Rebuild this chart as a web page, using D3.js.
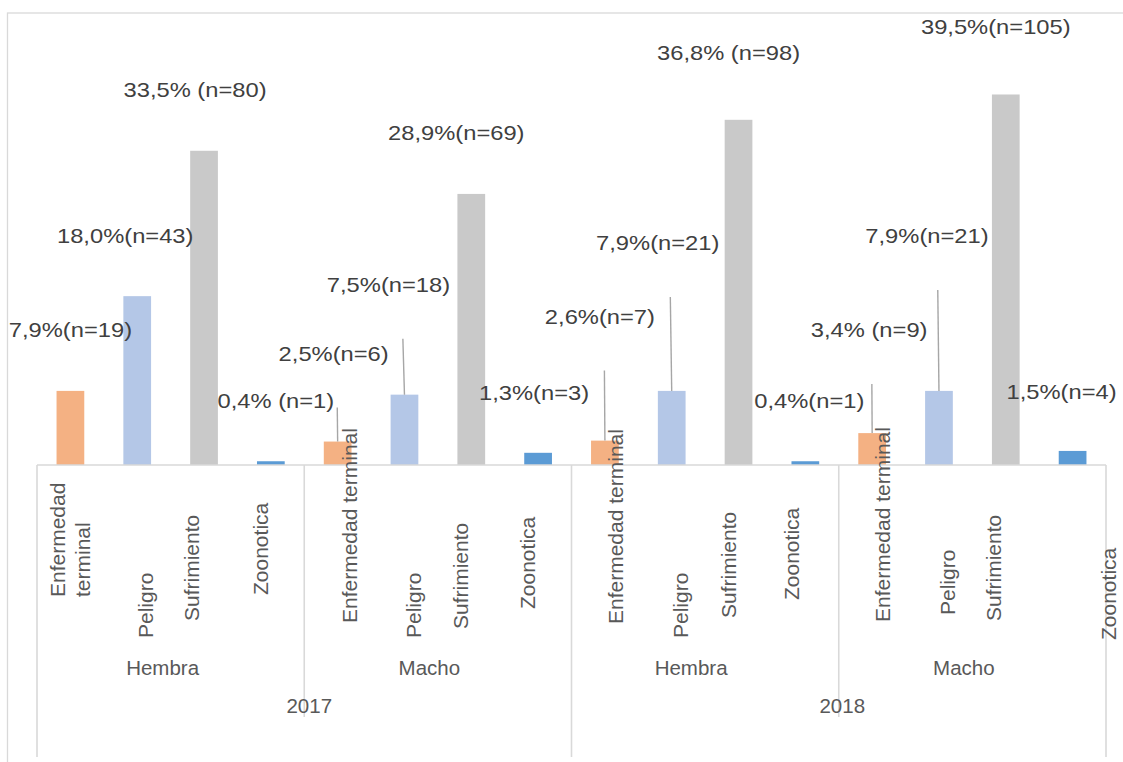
<!DOCTYPE html>
<html><head><meta charset="utf-8">
<script src="https://cdn.jsdelivr.net/npm/d3@7"></script>
<style>
body{margin:0;background:#fff}
svg{display:block}
text{font-family:"Liberation Sans",Arial,Helvetica,sans-serif}
</style>
</head><body><svg id="c" width="1123" height="762"></svg>
<script>
// ---------- data ----------
const years = ["2017", "2018"];
const sexes = ["Hembra", "Macho"];
const causes = ["Enfermedad terminal", "Peligro", "Sufrimiento", "Zoonotica"];
const pct2017Hembra = [7.9, 18.0, 33.5, 0.4];
const pct2017Macho  = [2.5, 7.5, 28.9, 1.3];
const pct2018Hembra = [2.6, 7.9, 36.8, 0.4];
const pct2018Macho  = [3.4, 7.9, 39.5, 1.5];
const lbl2017Hembra = ["7,9%(n=19)", "18,0%(n=43)", "33,5% (n=80)", "0,4% (n=1)"];
const lbl2017Macho  = ["2,5%(n=6)", "7,5%(n=18)", "28,9%(n=69)", "1,3%(n=3)"];
const lbl2018Hembra = ["2,6%(n=7)", "7,9%(n=21)", "36,8% (n=98)", "0,4%(n=1)"];
const lbl2018Macho  = ["3,4% (n=9)", "7,9%(n=21)", "39,5%(n=105)", "1,5%(n=4)"];

// ---------- styles / layout ----------
const colors = ["#F4B183", "#B4C7E7", "#C9C9C9", "#5B9BD5"];
// value label offsets [dx from bar centre, dy from bar top]
const valueLabelOffset = [
  [0,-61],[-12,-60],[-9,-61],[5,-60],
  [-4,-88],[-16,-110],[-15,-61],[-4,-60],
  [-5,-124],[-14,-148],[-10,-67],[4,-60],
  [-3,-103],[-12,-155],[-10,-68],[-11,-59]
];
// category tick label layout [baseline dx from bar centre, bottom y]
const tickLayout = [
  [-5.4,597],[15.8,638],[-5,621],[-2.8,595],
  [19.4,623],[16.6,638],[-3.2,629],[-3,609],
  [18.2,624],[16.4,638],[-2.4,618],[-6.2,600],
  [18,622],[16.2,615],[-4.6,621],[43.6,640]
];
const sexLabelDx = [-8,-8.5,-14,-8.5];
const yearLabelDx = [5,3.5];

const seriesByYearSex = {
  "2017|Hembra": [pct2017Hembra, lbl2017Hembra],
  "2017|Macho":  [pct2017Macho,  lbl2017Macho],
  "2018|Hembra": [pct2018Hembra, lbl2018Hembra],
  "2018|Macho":  [pct2018Macho,  lbl2018Macho]
};
const rows = [];
years.forEach(y => sexes.forEach(s => causes.forEach((c, ci) => {
  const [v, l] = seriesByYearSex[y + "|" + s];
  rows.push({year: y, sex: s, cause: c, ci, key: y + "|" + s + "|" + c, value: v[ci], label: l[ci]});
})));

const svg = d3.select("#c");
const X0 = 37, X1 = 1106, BASE = 465;

// outer chart border
svg.append("rect").attr("x", 7.5).attr("y", 13).attr("width", 1130).attr("height", 800)
  .attr("fill", "none").attr("stroke", "#d9d9d9").attr("stroke-width", 1.3);

const x = d3.scaleBand().domain(rows.map(d => d.key)).range([X0, X1])
  .paddingInner(0.585).paddingOuter(0.2925);
const xSex = d3.scaleBand().domain(years.flatMap(y => sexes.map(s => y + "|" + s))).range([X0, X1]);
const xYear = d3.scaleBand().domain(years).range([X0, X1]);
const y = d3.scaleLinear().domain([0, 45]).range([BASE, BASE - 45 * 9.38]);

// bars
svg.append("g").selectAll("rect").data(rows).join("rect")
  .attr("x", d => x(d.key)).attr("width", x.bandwidth())
  .attr("y", d => y(d.value)).attr("height", d => y(0) - y(d.value))
  .attr("fill", d => colors[d.ci]);

// axis lines
const axis = svg.append("g").attr("stroke", "#d9d9d9").attr("stroke-width", 1.6);
axis.append("line").attr("x1", X0).attr("x2", X1).attr("y1", BASE).attr("y2", BASE);
xSex.domain().forEach((k, i) => {
  if (i % 2 === 1) axis.append("line").attr("x1", xSex(k)).attr("x2", xSex(k)).attr("y1", BASE).attr("y2", 717);
});
years.forEach(yr => {
  axis.append("line").attr("x1", xYear(yr)).attr("x2", xYear(yr)).attr("y1", BASE).attr("y2", 757);
});
axis.append("line").attr("x1", X1).attr("x2", X1).attr("y1", BASE).attr("y2", 757);

// category tick labels (rotated)
const tl = svg.append("g").attr("fill", "#595959").style("font-size", "21px");
rows.forEach((d, i) => {
  const cx = x(d.key) + x.bandwidth() / 2;
  const [dx, yb] = tickLayout[i];
  const lines = i === 0 ? d.cause.split(" ") : [d.cause];
  lines.forEach((ln, li) => {
    tl.append("text").attr("transform", `translate(${cx + dx + li * 25},${yb}) rotate(-90)`)
      .attr("text-anchor", "start").text(ln);
  });
});

// sex labels
const sl = svg.append("g").attr("fill", "#595959").style("font-size", "20.5px").attr("text-anchor", "middle");
xSex.domain().forEach((k, i) => {
  sl.append("text").attr("x", xSex(k) + xSex.bandwidth() / 2 + sexLabelDx[i]).attr("y", 667)
    .attr("dominant-baseline", "central").text(k.split("|")[1]);
});
years.forEach((yr, i) => {
  sl.append("text").attr("x", xYear(yr) + xYear.bandwidth() / 2 + yearLabelDx[i]).attr("y", 705)
    .attr("dominant-baseline", "central").text(yr);
});

// value labels + leader lines
const vl = svg.append("g");
rows.forEach((d, i) => {
  const cx = x(d.key) + x.bandwidth() / 2;
  const top = y(d.value);
  const [dx, dy] = valueLabelOffset[i];
  const lx = cx + dx, ly = top + dy;
  if (dy < -80) {
    vl.append("line").attr("x1", cx - (cx - lx) * 0.1).attr("y1", ly + 54)
      .attr("x2", cx).attr("y2", top).attr("stroke", "#a6a6a6").attr("stroke-width", 1.4);
  }
  vl.append("text").attr("transform", `translate(${lx},${ly}) scale(1.13,1)`)
    .attr("text-anchor", "middle").attr("dominant-baseline", "central")
    .attr("fill", "#404040").style("font-size", "21px").text(d.label);
});
</script>
</body></html>
